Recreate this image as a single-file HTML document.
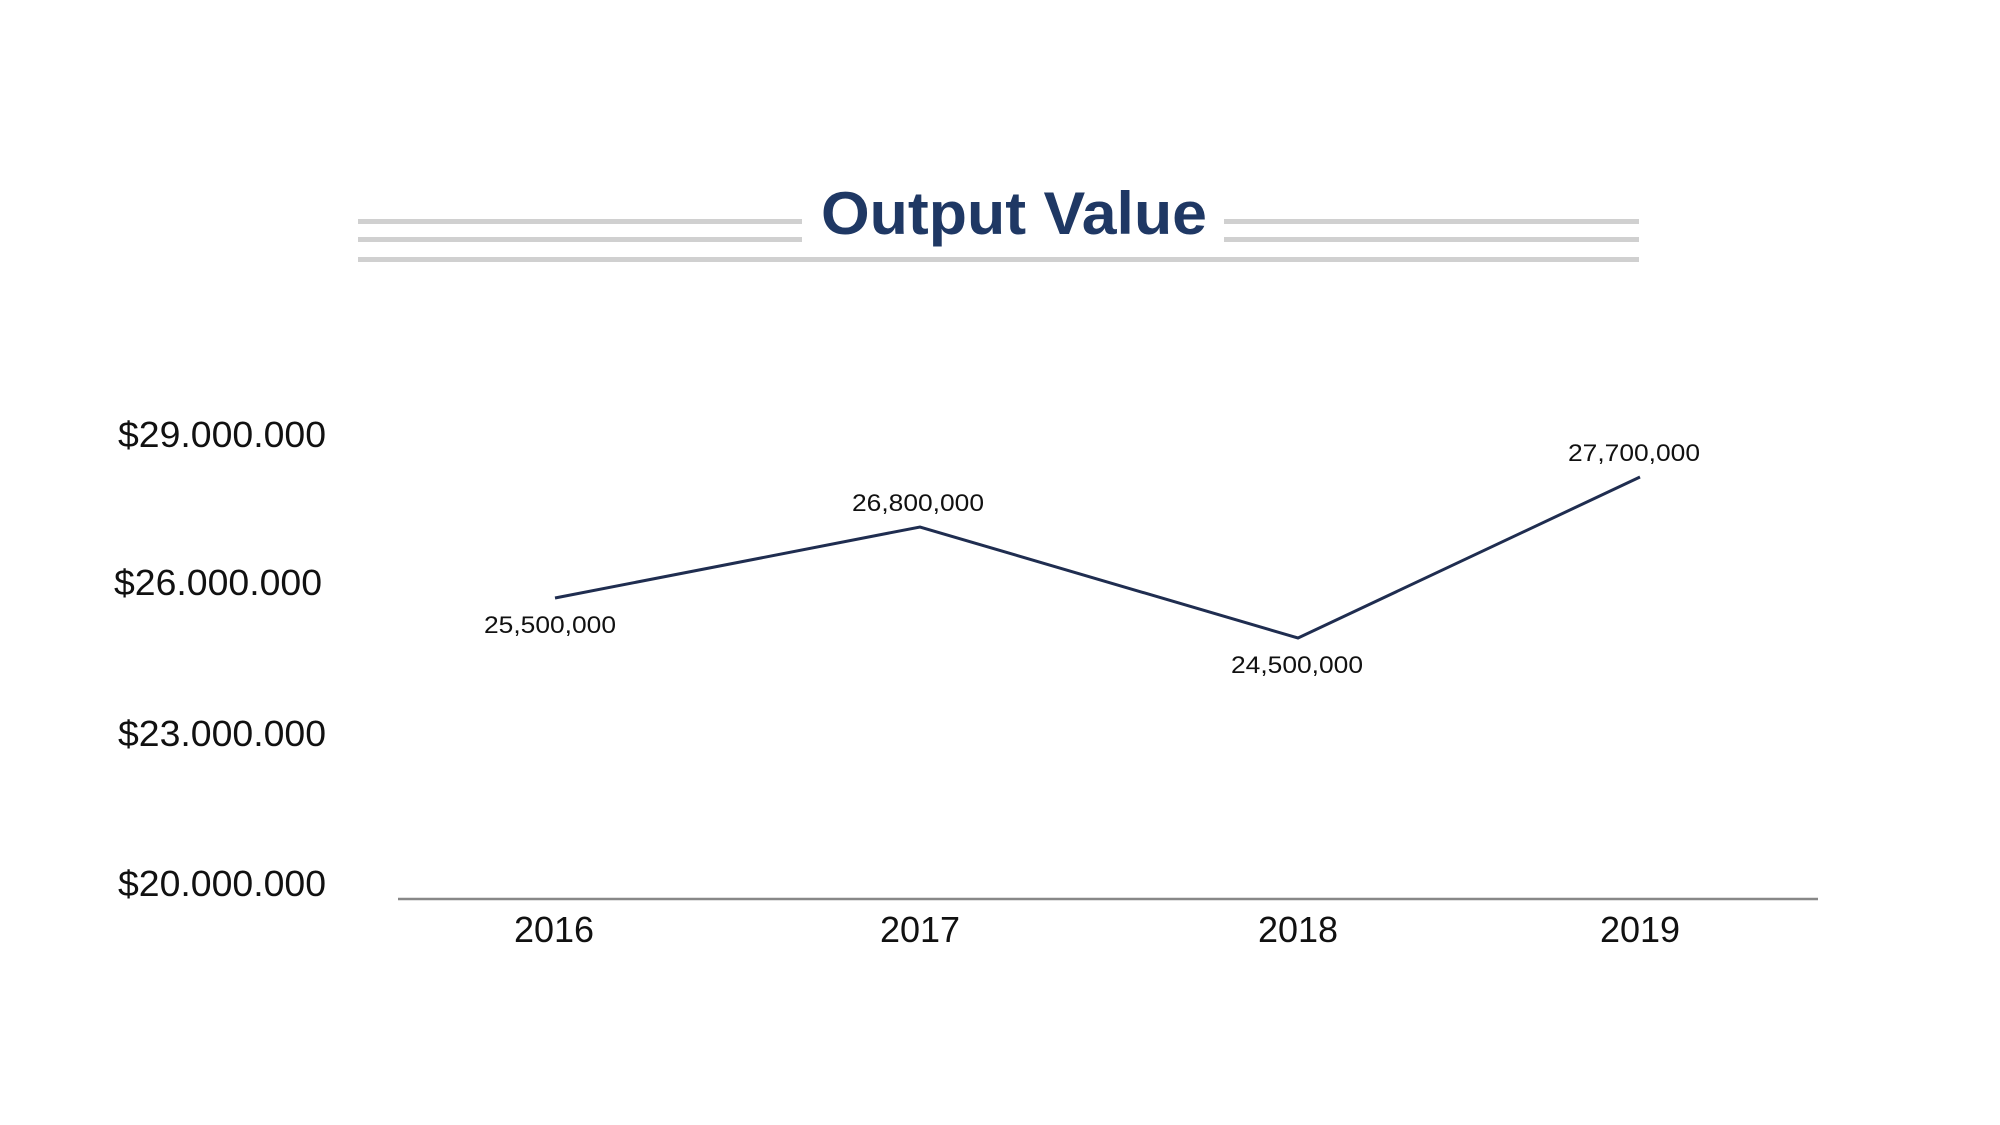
<!DOCTYPE html>
<html><head><meta charset="utf-8"><style>
html,body{margin:0;padding:0;background:#fff;width:2000px;height:1125px;overflow:hidden}
</style></head><body>
<svg width="2000" height="1125" viewBox="0 0 2000 1125" xmlns="http://www.w3.org/2000/svg">
<g fill="#d0d0d0">
<rect x="358" y="219" width="444" height="5"/>
<rect x="358" y="237" width="444" height="5"/>
<rect x="1224" y="219" width="415" height="5"/>
<rect x="1224" y="237" width="415" height="5"/>
<rect x="358" y="257" width="1281" height="5"/>
</g>
<text x="1014" y="234" text-anchor="middle" font-family="Liberation Sans, sans-serif" font-weight="bold" font-size="60" fill="#1f3864" textLength="386" lengthAdjust="spacingAndGlyphs">Output Value</text>
<g font-family="Liberation Sans, sans-serif" font-size="36" fill="#111" text-anchor="end">
<text x="326" y="447" textLength="208" lengthAdjust="spacingAndGlyphs">$29.000.000</text>
<text x="322" y="595" textLength="208" lengthAdjust="spacingAndGlyphs">$26.000.000</text>
<text x="326" y="746" textLength="208" lengthAdjust="spacingAndGlyphs">$23.000.000</text>
<text x="326" y="896" textLength="208" lengthAdjust="spacingAndGlyphs">$20.000.000</text>
</g>
<line x1="398" y1="899" x2="1818" y2="899" stroke="#888" stroke-width="2.5"/>
<g font-family="Liberation Sans, sans-serif" font-size="36" fill="#111" text-anchor="middle">
<text x="554" y="942">2016</text>
<text x="920" y="942">2017</text>
<text x="1298" y="942">2018</text>
<text x="1640" y="942">2019</text>
</g>
<polyline points="555,598 920,527 1298,638 1640,477" fill="none" stroke="#1f2d50" stroke-width="3"/>
<g font-family="Liberation Sans, sans-serif" font-size="24" fill="#111" text-anchor="middle">
<text x="550" y="633" textLength="132" lengthAdjust="spacingAndGlyphs">25,500,000</text>
<text x="918" y="511" textLength="132" lengthAdjust="spacingAndGlyphs">26,800,000</text>
<text x="1297" y="673" textLength="132" lengthAdjust="spacingAndGlyphs">24,500,000</text>
<text x="1634" y="461" textLength="132" lengthAdjust="spacingAndGlyphs">27,700,000</text>
</g>
</svg>
</body></html>
